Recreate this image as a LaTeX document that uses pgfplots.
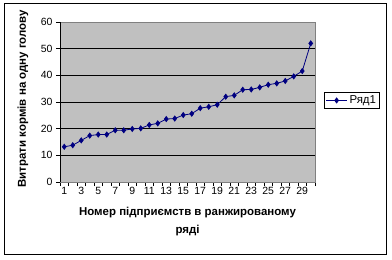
\documentclass[border=0pt]{standalone}
\usepackage{fontspec}
\setmainfont{Liberation Sans}
\usepackage{pgfplots}
\pgfplotsset{compat=1.18}
\definecolor{plotgray}{HTML}{C0C0C0}
\definecolor{bordergray}{HTML}{808080}
\definecolor{navyline}{HTML}{000080}
\begin{document}
\begin{tikzpicture}
\useasboundingbox (0,0) rectangle (392bp,260bp);
\draw[black, line width=1bp] (4bp,5bp) rectangle (386bp,256bp);
\begin{axis}[
  scale only axis,
  width=255bp, height=160bp,
  at={(60bp,78bp)}, anchor=south west,
  xmin=0.5, xmax=30.5, ymin=0, ymax=60,
  axis background/.style={fill=plotgray},
  axis line style={bordergray, line width=0.6bp},
  ytick={0,10,...,60},
  ymajorgrids, grid style={black, line width=0.6bp},
  xtick={0.5,1.5,...,30.5},
  xticklabels={},
  extra x ticks={1,3,...,29},
  extra x tick style={major tick length=0pt, grid=none},
  tick align=outside,
  major tick length=4bp,
  tick style={black, line width=0.6bp},
  xtick pos=bottom, ytick pos=left,
  /pgf/number format/assume math mode=true,
  tick label style={font=\fontsize{10.5}{12}\selectfont},
  xticklabel style={yshift=-2bp},
  xlabel={Номер підприємств в ранжированому\\ряді},
  xlabel style={at={(axis description cs:0.5,-0.25)}, anchor=center, align=center, font=\fontsize{11.5}{18}\selectfont\bfseries},
  ylabel={Витрати кормів на одну голову},
  ylabel style={at={(axis description cs:-0.145,0.52)}, anchor=center, font=\fontsize{11.5}{12}\selectfont\bfseries},
  legend style={at={(axis description cs:1.035,0.5625)}, anchor=north west, draw=black, fill=white, font=\fontsize{11.5}{12}\selectfont, inner sep=1.5bp, line width=0.6bp},
  legend cell align=left,
  legend image code/.code={\draw[#1, mark repeat=2, mark phase=2] plot coordinates {(0bp,0bp) (10.5bp,0bp) (21bp,0bp)};},
]
\draw[black, line width=0.8bp] (axis cs:0.5,0) -- (axis cs:30.5,0);
\draw[black, line width=0.8bp] (axis cs:0.5,0) -- (axis cs:0.5,60);
\addplot[navyline, line width=0.8bp, mark=diamond*, mark size=2.5bp, mark options={fill=navyline}] coordinates {
(1,13.2) (2,13.8) (3,15.6) (4,17.4) (5,17.8) (6,17.8) (7,19.4) (8,19.4) (9,19.9) (10,20.1)
(11,21.4) (12,22.0) (13,23.6) (14,23.8) (15,25.1) (16,25.6) (17,27.7) (18,28.2) (19,29.0) (20,32.0)
(21,32.5) (22,34.6) (23,34.7) (24,35.5) (25,36.5) (26,37.0) (27,37.9) (28,39.6) (29,41.6) (30,52.0)
};
\addlegendentry{Ряд1}
\end{axis}
\end{tikzpicture}
\end{document}
